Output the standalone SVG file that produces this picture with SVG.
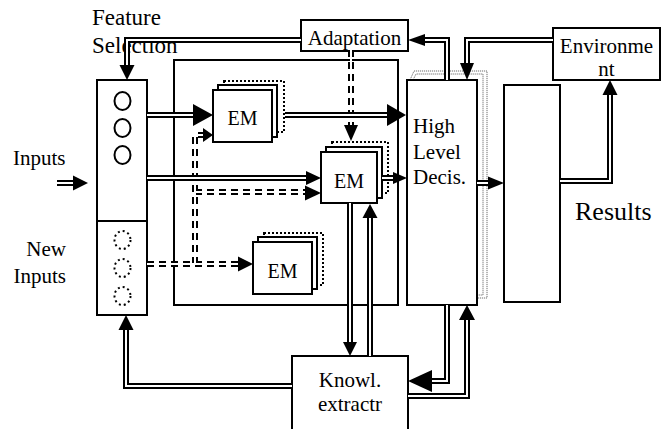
<svg xmlns="http://www.w3.org/2000/svg" xmlns:xlink="http://www.w3.org/1999/xlink" width="665" height="429" viewBox="0 0 665 429">
<style>
  .box { fill: #fff; stroke: #000; stroke-width: 2; }
  .nofill { fill: none; stroke: #000; stroke-width: 2; }
  .dotbox { fill: #fff; stroke: #000; stroke-width: 2; stroke-dasharray: 2 2; }
  .circ { fill: none; stroke: #000; stroke-width: 2; }
  .dcirc { fill: none; stroke: #000; stroke-width: 2; stroke-dasharray: 2 3; }
  .shadow { fill: none; stroke: #555; stroke-width: 1; stroke-dasharray: 1 1; }
  .outer { fill: none; stroke: #000; stroke-width: 6; stroke-linejoin: miter; }
  .inner { fill: none; stroke: #fff; stroke-width: 2; stroke-linejoin: miter; }
  .douter { fill: none; stroke: #000; stroke-width: 6; stroke-dasharray: 7 5; }
  .head { fill: #000; stroke: none; }
  text { font-family: "Liberation Serif", "Times New Roman", serif; font-size: 21px; fill: #000; }
  .big { font-size: 23px; }
  .res { font-size: 26px; }
  .em { font-size: 20px; text-anchor: middle; }
  .mid { text-anchor: middle; }
</style>
<defs>
  <path id="c1" d="M57,183 H75"/>
  <path id="c2" d="M301,40 H127 V66"/>
  <path id="c3" d="M447,80 V40 H424"/>
  <path id="c4" d="M553,40 H467 V64"/>
  <path id="c5" d="M560,181 H610 V94"/>
  <path id="c6" d="M477,183 H490"/>
  <path id="c7" d="M147,115 H195"/>
  <path id="c8" d="M285,115 H389"/>
  <path id="c9" d="M147,178 H307"/>
  <path id="c10" d="M382,178 H394"/>
  <path id="c11" d="M350,203 V343"/>
  <path id="c12" d="M370,356 V217"/>
  <path id="c13" d="M447,305 V381 H430"/>
  <path id="c14" d="M408,396 H467 V319"/>
  <path id="c15" d="M292,386 H126 V329"/>
  <path id="d1" d="M147,264 H239"/>
  <path id="d2" d="M195,264 V135 H204"/>
  <path id="d3" d="M195,192 H306"/>
  <path id="d4" d="M351,50 V126"/>
</defs>

<g id="labels">
  <text class="big" x="92" y="25">Feature</text>
  <text class="big" x="92" y="53">Selection</text>
  <text x="13" y="165">Inputs</text>
  <text x="66" y="256" text-anchor="end">New</text>
  <text x="66" y="283" text-anchor="end">Inputs</text>
  <text class="res" x="575" y="220">Results</text>
</g>

<g id="center-box">
  <rect class="nofill" x="174" y="60" width="224" height="245"/>
</g>

<g id="feature-box">
  <rect class="box" x="97" y="80" width="50" height="235"/>
  <line x1="97" y1="221" x2="147" y2="221" stroke="#000" stroke-width="2"/>
  <ellipse class="circ" cx="122.5" cy="101" rx="8" ry="9"/>
  <ellipse class="circ" cx="122.5" cy="128" rx="8" ry="9"/>
  <ellipse class="circ" cx="122.5" cy="155" rx="8" ry="9"/>
  <ellipse class="dcirc" cx="122.5" cy="240" rx="8" ry="9"/>
  <ellipse class="dcirc" cx="122.5" cy="268" rx="8" ry="9"/>
  <ellipse class="dcirc" cx="122.5" cy="296" rx="8" ry="9"/>
</g>

<g id="adaptation">
  <rect class="box" x="301" y="20" width="107" height="31"/>
  <text class="mid" x="354.5" y="45">Adaptation</text>
</g>

<g id="environment">
  <rect class="box" x="553" y="28" width="107" height="52"/>
  <text class="mid" x="606.5" y="53">Environme</text>
  <text class="mid" x="606.5" y="76">nt</text>
</g>

<g id="high-level">
  <path class="shadow" d="M410,80 L414,71 H487 V298 H477"/>
  <path class="shadow" d="M413,80 L416,74 H483 V295 H477"/>
  <rect class="box" x="407" y="80" width="70" height="225"/>
  <text x="413" y="133">High</text>
  <text x="413" y="159">Level</text>
  <text x="413" y="184">Decis.</text>
</g>

<g id="results">
  <rect class="box" x="504" y="85" width="56" height="217"/>
</g>

<g id="knowl">
  <rect class="box" x="292" y="356" width="116" height="90"/>
  <text class="mid" x="350" y="387">Knowl.</text>
  <text class="mid" x="350" y="411">extractr</text>
</g>

<g id="em1">
  <rect class="dotbox" x="224" y="81" width="60" height="51"/>
  <rect class="box" x="218" y="85" width="59" height="52"/>
  <rect class="box" x="213" y="90" width="59" height="52"/>
  <text class="em" x="242.5" y="125">EM</text>
</g>

<g id="em2">
  <rect class="dotbox" x="332" y="142" width="56" height="51"/>
  <rect class="box" x="326" y="147" width="56" height="51"/>
  <rect class="box" x="321" y="152" width="56" height="51"/>
  <text class="em" x="349" y="188">EM</text>
</g>

<g id="em3">
  <rect class="dotbox" x="264" y="233" width="59" height="52"/>
  <rect class="box" x="258" y="237" width="59" height="52"/>
  <rect class="box" x="253" y="242" width="59" height="52"/>
  <text class="em" x="282.5" y="278">EM</text>
</g>

<g id="connectors">
  <g class="douter">
    <use href="#d1"/><use href="#d2"/><use href="#d3"/><use href="#d4"/>
  </g>
  <g class="inner">
    <use href="#d1"/><use href="#d2"/><use href="#d3"/><use href="#d4"/>
  </g>
  <g class="outer">
    <use href="#c1"/><use href="#c2"/><use href="#c3"/><use href="#c4"/><use href="#c5"/>
    <use href="#c6"/><use href="#c7"/><use href="#c8"/><use href="#c9"/><use href="#c10"/>
    <use href="#c11"/><use href="#c12"/><use href="#c13"/><use href="#c14"/><use href="#c15"/>
  </g>
  <g class="inner">
    <use href="#c1"/><use href="#c2"/><use href="#c3"/><use href="#c4"/><use href="#c5"/>
    <use href="#c6"/><use href="#c7"/><use href="#c8"/><use href="#c9"/><use href="#c10"/>
    <use href="#c11"/><use href="#c12"/><use href="#c13"/><use href="#c14"/><use href="#c15"/>
  </g>
  <g class="head">
    <polygon points="88,183 73,175.5 73,190.5"/>
    <polygon points="127,80 119.5,65 134.5,65"/>
    <polygon points="408,40 425,34 425,46"/>
    <polygon points="467,80 460,63 474,63"/>
    <polygon points="610,80 602.5,95 617.5,95"/>
    <polygon points="504,183 488,176.5 488,189.5"/>
    <polygon points="213,115 193,104 193,126"/>
    <polygon points="406,115 387,104 387,126"/>
    <polygon points="321,178 306,171 306,185"/>
    <polygon points="321,193 305,185.5 305,200.5"/>
    <polygon points="407,178 393,172 393,184"/>
    <polygon points="253,264 238,256.5 238,271.5"/>
    <polygon points="213,135 203,128 203,142"/>
    <polygon points="351,141 344,125 358,125"/>
    <polygon points="350,356 343,342 357,342"/>
    <polygon points="370,204 362.5,218 377.5,218"/>
    <polygon points="408,381 432,370 432,392"/>
    <polygon points="467,305 459,320 475,320"/>
    <polygon points="126,315 118.5,330 133.5,330"/>
  </g>
</g>
</svg>
